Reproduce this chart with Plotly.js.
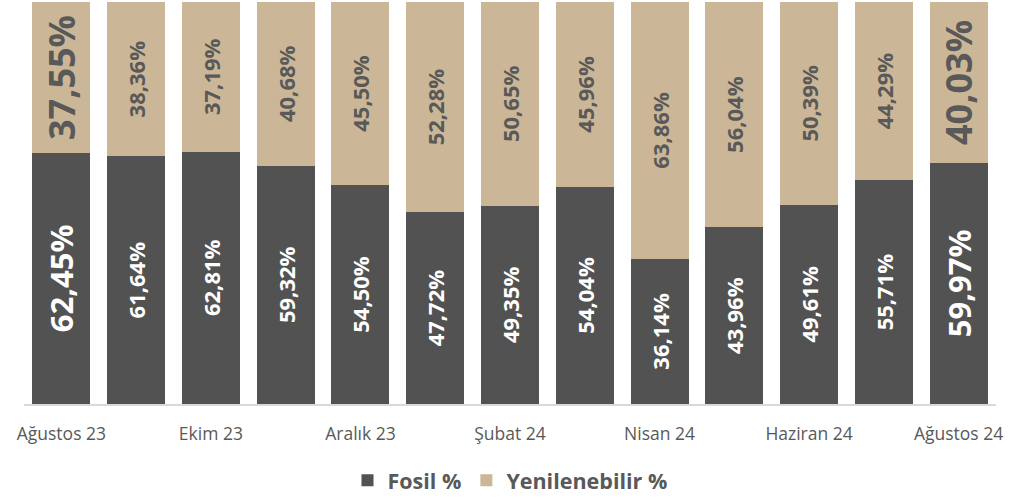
<!DOCTYPE html>
<html>
<head>
<meta charset="utf-8">
<script src="https://cdn.plot.ly/plotly-3.0.1.min.js"></script>
<style>html,body{margin:0;padding:0;background:#fff}#chart{width:1027px;height:499px}</style>
</head>
<body>
<div id="chart"></div>
<script>
const categories = ["Ağustos 23","Eylül 23","Ekim 23","Kasım 23","Aralık 23","Ocak 24","Şubat 24","Mart 24","Nisan 24","Mayıs 24","Haziran 24","Temmuz 24","Ağustos 24"];
const fosil = [62.45,61.64,62.81,59.32,54.50,47.72,49.35,54.04,36.14,43.96,49.61,55.71,59.97];
const yenilenebilir = [37.55,38.36,37.19,40.68,45.50,52.28,50.65,45.96,63.86,56.04,50.39,44.29,40.03];
const tickVals = ["Ağustos 23","Ekim 23","Aralık 23","Şubat 24","Nisan 24","Haziran 24","Ağustos 24"];

const fmt = v => v.toFixed(2).replace('.', ',') + '%';
const isEnd = i => (i === 0 || i === categories.length - 1);
const sizesF = categories.map((c, i) => isEnd(i) ? 31 : 22);
const sizesY = categories.map((c, i) => isEnd(i) ? 36 : 22);
const FONT = '"Open Sans", "Noto Sans", sans-serif';

const common = {
  type: 'bar', x: categories, textposition: 'inside', insidetextanchor: 'middle',
  textangle: -90, constraintext: 'none', hoverinfo: 'none', cliponaxis: false
};
const traces = [
  Object.assign({}, common, {
    name: 'Fosil %', y: fosil, text: fosil.map(fmt),
    marker: {color: '#525252'},
    textfont: {family: FONT, size: sizesF, color: '#ffffff', weight: 'bold'}
  }),
  Object.assign({}, common, {
    name: 'Yenilenebilir %', y: yenilenebilir, text: yenilenebilir.map(fmt),
    marker: {color: '#CBB797'},
    textfont: {family: FONT, size: sizesY, color: '#595959', weight: 'bold'}
  })
];
const layout = {
  width: 1027, height: 499,
  margin: {l: 24, r: 31, t: 2, b: 95, autoexpand: false},
  barmode: 'stack', bargap: 0.225,
  paper_bgcolor: '#ffffff', plot_bgcolor: '#ffffff',
  font: {family: FONT, color: '#595959'},
  xaxis: {type: 'category', tickvals: tickVals, ticktext: tickVals,
          tickfont: {family: FONT, size: 17.5, color: '#595959'},
          showline: true, linecolor: '#d9d9d9', linewidth: 1.5, ticks: '', showgrid: false,
          ticklabelstandoff: 13},
  yaxis: {range: [0, 100], visible: false, showgrid: false, zeroline: false},
  showlegend: true,
  legend: {orientation: 'h', x: 0.5, xanchor: 'center', y: -0.19, yanchor: 'middle',
           font: {family: FONT, size: 21.5, color: '#595959', weight: 'bold'}, itemwidth: 30,
           traceorder: 'normal'}
};
Plotly.newPlot('chart', traces, layout, {displayModeBar: false, staticPlot: true});
</script>
</body>
</html>
